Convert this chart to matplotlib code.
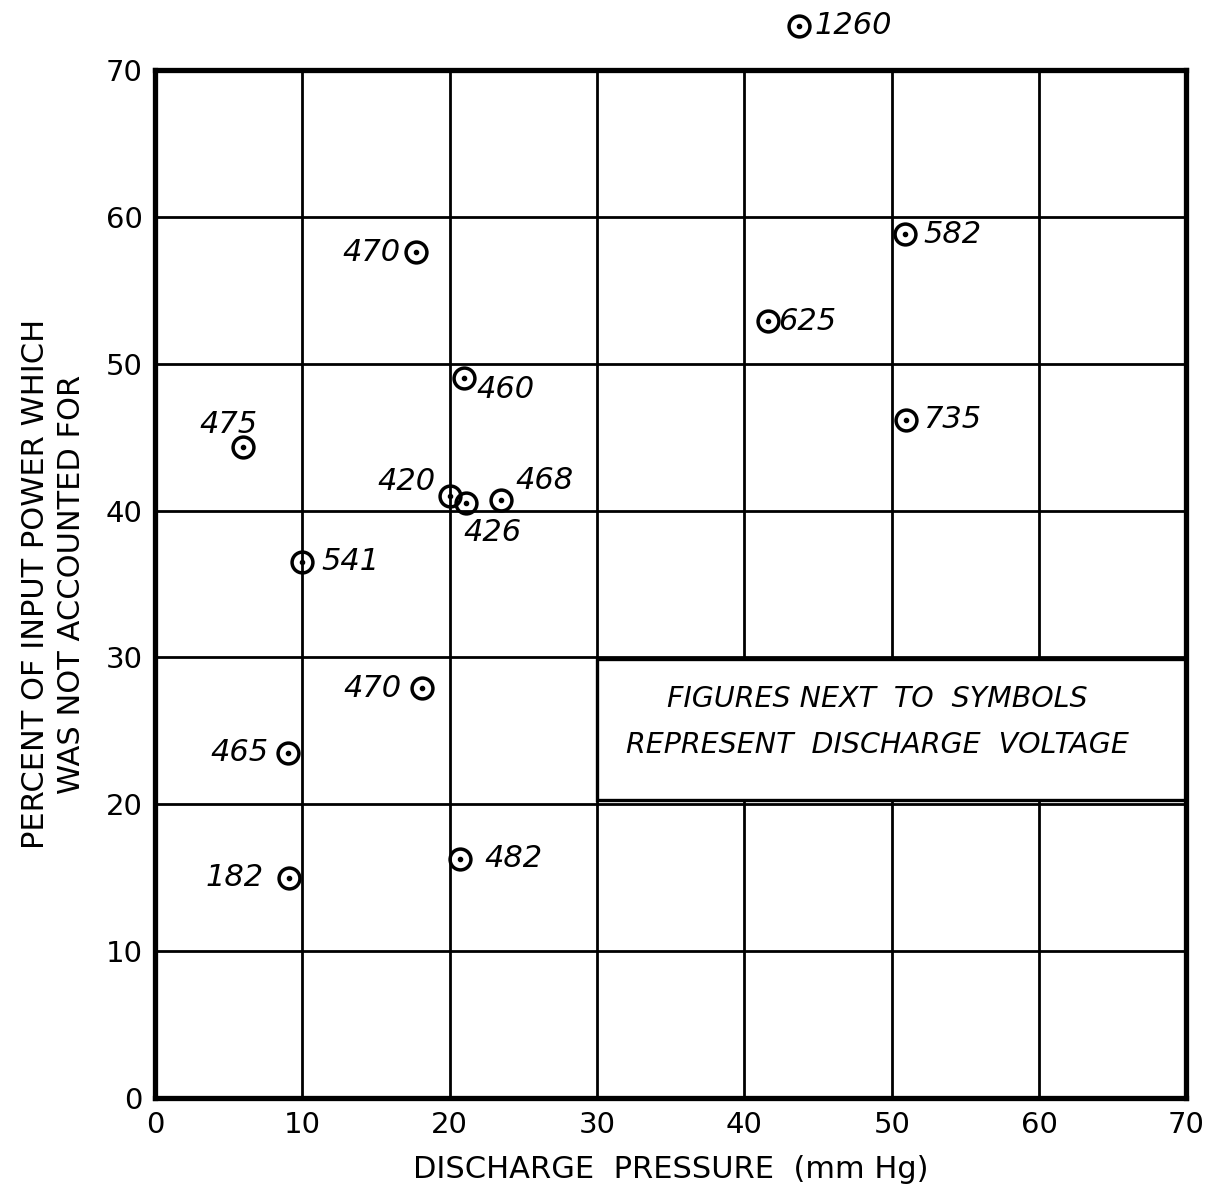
import matplotlib
matplotlib.use("Agg")
import matplotlib.pyplot as plt
from matplotlib.patches import Rectangle

# Data: discharge pressure (mm Hg), unaccounted power (%), discharge voltage
pressure = [43.7, 17.7, 50.9, 41.6, 21.0, 51.0, 6.0, 20.0, 21.1, 23.5, 10.0, 18.1, 9.0, 20.7, 9.1]
percent = [73.0, 57.6, 58.8, 52.9, 49.0, 46.2, 44.3, 41.0, 40.5, 40.7, 36.5, 27.9, 23.5, 16.3, 15.0]
voltage = ["1260", "470", "582", "625", "460", "735", "475", "420", "426", "468", "541", "470", "465", "482", "182"]

ticks = list(range(0, 71, 10))

# label offsets in pixels (dx, dy) and horizontal alignment for each point
label_pos = [
    (16, 0, "left"), (-15, 0, "right"), (18, 0, "left"), (10, 0, "left"),
    (12, -11, "left"), (17, 0, "left"), (-15, 23, "center"), (-14, 14, "right"),
    (27, -29, "center"), (14, 20, "left"), (19, 0, "left"), (-20, 0, "right"),
    (-19, 0, "right"), (24, 0, "left"), (-25, 0, "right"),
]

plt.rcParams["font.family"] = "DejaVu Sans"

fig = plt.figure(figsize=(12.05, 11.9), dpi=100)
ax = fig.add_axes([0.1286, 0.0773, 0.856, 0.8639])

ax.set_xlim(0, 70)
ax.set_ylim(0, 70)
ax.set_xticks(ticks)
ax.set_yticks(ticks)
ax.tick_params(length=0, labelsize=21, pad=9)
ax.grid(True, color="black", linewidth=2.0)
ax.set_axisbelow(True)
for s in ax.spines.values():
    s.set_linewidth(3.8)
    s.set_color("black")

# note box covering part of the grid
box = Rectangle((30, 20.3), 40, 9.6, facecolor="white", edgecolor="black", linewidth=2.4, zorder=2)
ax.add_patch(box)
ax.text(49.0, 25.6, "FIGURES NEXT  TO  SYMBOLS\nREPRESENT  DISCHARGE  VOLTAGE", ha="center", va="center",
        fontsize=20.5, style="italic", linespacing=1.8, zorder=3)

# points: open circle with centre dot
ax.plot(pressure, percent, linestyle="none", marker="o", markersize=15, markerfacecolor="none",
        markeredgecolor="black", markeredgewidth=2.5, clip_on=False, zorder=4)
ax.plot(pressure, percent, linestyle="none", marker="o", markersize=3, color="black", clip_on=False, zorder=4)

for x, y, v, (dx, dy, ha) in zip(pressure, percent, voltage, label_pos):
    ax.annotate(v, (x, y), xytext=(dx * 0.72, dy * 0.72), textcoords="offset points", ha=ha, va="center",
                fontsize=22, style="italic", annotation_clip=False)

ax.set_xlabel("DISCHARGE  PRESSURE  (mm Hg)", fontsize=22, labelpad=12)
ax.set_ylabel("PERCENT OF INPUT POWER WHICH\nWAS NOT ACCOUNTED FOR", fontsize=22, labelpad=14,
              multialignment="center", linespacing=1.3)

fig.savefig("out.png", dpi=100)
